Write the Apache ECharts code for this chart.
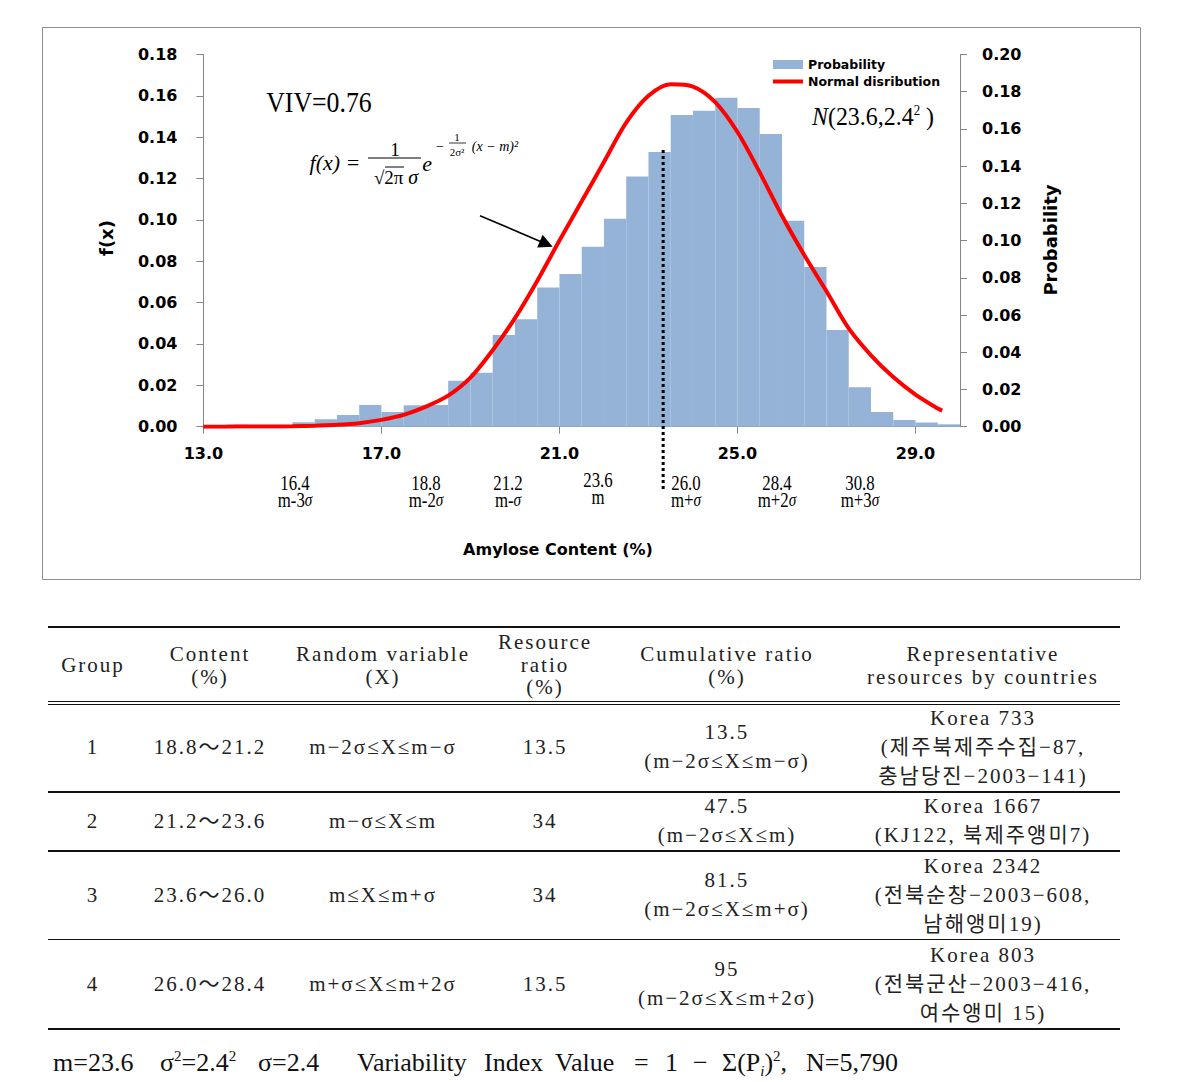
<!DOCTYPE html>
<html><head><meta charset="utf-8">
<script src="https://cdn.jsdelivr.net/npm/echarts@6/dist/echarts.min.js"></script>
<style>
html,body{margin:0;padding:0;background:#fff;}
#wrap{position:relative;width:1200px;height:1082px;overflow:hidden;background:#fff;}
#chart{position:absolute;left:0;top:0;width:1200px;height:600px;}
.t{position:absolute;transform:translate(-50%,-50%);text-align:center;white-space:nowrap;font-family:"Liberation Serif","Noto Sans CJK KR",serif;font-size:21px;letter-spacing:2px;color:#222;}
.hl{position:absolute;left:48px;width:1072px;background:#111;}
.ft{position:absolute;top:1063px;transform:translateY(-50%);white-space:nowrap;font-family:"Liberation Serif","Noto Sans CJK KR",serif;font-size:26px;color:#111;}
.ft sup{font-size:15px;vertical-align:10px;line-height:0;}
.ft sub{font-size:15px;vertical-align:-5px;line-height:0;}
</style></head>
<body><div id="wrap"><div id="chart"></div></div>
<script>
// ---------- chart data ----------
const binStarts = [13.0,13.5,14.0,14.5,15.0,15.5,16.0,16.5,17.0,17.5,18.0,18.5,19.0,19.5,20.0,20.5,21.0,21.5,22.0,22.5,23.0,23.5,24.0,24.5,25.0,25.5,26.0,26.5,27.0,27.5,28.0,28.5,29.0,29.5];
const binWidth = 0.5;
const probability = [0,0.0011,0,0,0.0024,0.0040,0.0063,0.0117,0.0079,0.0115,0.0117,0.0247,0.0290,0.0493,0.0578,0.0748,0.0821,0.0967,0.1117,0.1345,0.1476,0.1675,0.1698,0.1767,0.1713,0.1573,0.1107,0.0858,0.0520,0.0212,0.0079,0.0036,0.0022,0.0013];
const curveX = [13.0,13.5,14.0,14.5,15.0,15.5,16.0,16.5,17.0,17.5,18.0,18.5,19.0,19.5,20.0,20.5,21.0,21.5,22.0,22.5,23.0,23.5,24.0,24.5,25.0,25.5,26.0,26.5,27.0,27.5,28.0,28.5,29.0,29.5,29.6];
const curveFx = [0.0000,0.0000,0.0001,0.0001,0.0002,0.0005,0.0009,0.0017,0.0033,0.0057,0.0097,0.0150,0.0237,0.0370,0.0525,0.0705,0.0900,0.1090,0.1280,0.1470,0.1600,0.1656,0.1645,0.1570,0.1425,0.1230,0.1020,0.0830,0.0655,0.0475,0.0345,0.0240,0.0155,0.0088,0.0078];
const xTicks = [13,17,21,25,29];
const sigmaValues = ['16.4','18.8','21.2','23.6','26.0','28.4','30.8'];
const sigmaNames = ['m-3','m-2','m-','m','m+','m+2','m+3'];
const dividerX = 23.33;

// ---------- table data ----------
const tableHeaders = ['Group','Content<br>(%)','Random variable<br>(X)','Resource<br>ratio<br>(%)','Cumulative ratio<br>(%)','Representative<br>resources by countries'];
const groups = ['1','2','3','4'];
const contents = ['18.8～21.2','21.2～23.6','23.6～26.0','26.0～28.4'];
const randomVars = ['m−2σ≤X≤m−σ','m−σ≤X≤m','m≤X≤m+σ','m+σ≤X≤m+2σ'];
const resourceRatio = ['13.5','34','34','13.5'];
const cumRatio = ['13.5','47.5','81.5','95'];
const cumRange = ['(m−2σ≤X≤m−σ)','(m−2σ≤X≤m)','(m−2σ≤X≤m+σ)','(m−2σ≤X≤m+2σ)'];
const repResources = [['Korea 733','(제주북제주수집−87,','충남당진−2003−141)'],['Korea 1667','(KJ122, 북제주앵미7)'],['Korea 2342','(전북순창−2003−608,','남해앵미19)'],['Korea 803','(전북군산−2003−416,','여수앵미 15)']];
const footParts = ['m=23.6','σ<sup>2</sup>=2.4<sup>2</sup>','σ=2.4','Variability','Index','Value','=','1','−','Σ(P<sub><i>i</i></sub>)<sup>2</sup>,','N=5,790'];

// ---------- chart ----------
const chart = echarts.init(document.getElementById('chart'), null, {renderer:'svg'});
const bold = {fontFamily:'DejaVu Sans', fontWeight:'bold', fontSize:16, color:'#000'};
const barData = binStarts.map((s,i)=>[s, s+binWidth, probability[i]]);
const lineData = curveX.map((x,i)=>[x, curveFx[i]]);

function txt(x,y,text,style,extra){
  return Object.assign({type:'text', x:x, y:y, silent:true, z:50,
    style:Object.assign({text:text, fill:'#000', align:'center', verticalAlign:'middle', textAlign:'center', textVerticalAlign:'middle', fontFamily:'Liberation Serif', fontSize:18}, style||{})}, extra||{});
}
function ln(x1,y1,x2,y2,w,extra){
  return Object.assign({type:'line', silent:true, z:50, shape:{x1:x1,y1:y1,x2:x2,y2:y2}, style:{stroke:'#000', lineWidth:w||1}}, extra||{});
}

chart.setOption({
  animation:false,
  grid:{left:203.4, right:240, top:54.5, bottom:173.3},
  legend:{orient:'vertical', left:766, top:53, itemWidth:30, itemHeight:9, itemGap:4,
    textStyle:{fontFamily:'DejaVu Sans', fontWeight:'bold', fontSize:12.5, color:'#000'},
    data:[{name:'Probability', icon:'rect'},
          {name:'Normal disribution', itemStyle:{opacity:0, color:'rgba(0,0,0,0)', borderWidth:0}, lineStyle:{width:4, color:'#FF0000'}}]},
  xAxis:{type:'value', min:13, max:30,
    axisLine:{lineStyle:{color:'#868686', width:1}},
    axisTick:{show:true, length:7, customValues:xTicks, lineStyle:{color:'#868686'}},
    axisLabel:Object.assign({margin:19, customValues:xTicks, formatter:v=>v.toFixed(1)}, bold),
    splitLine:{show:false}},
  yAxis:[
    {type:'value', min:0, max:0.18, interval:0.02, position:'left',
     axisLine:{show:true, lineStyle:{color:'#868686'}},
     axisTick:{show:true, length:7, lineStyle:{color:'#868686'}},
     axisLabel:Object.assign({margin:26, formatter:v=>v.toFixed(2)}, bold),
     splitLine:{show:false}},
    {type:'value', min:0, max:0.2, interval:0.02, position:'right',
     axisLine:{show:true, lineStyle:{color:'#868686'}},
     axisTick:{show:true, length:7, lineStyle:{color:'#868686'}},
     axisLabel:Object.assign({margin:22, formatter:v=>v.toFixed(2)}, bold),
     splitLine:{show:false}}
  ],
  series:[
    {name:'Probability', type:'custom', xAxisIndex:0, yAxisIndex:1, data:barData,
     encode:{x:[0,1], y:2}, itemStyle:{color:'#95B3D7'}, z:2,
     renderItem:function(params, api){
       const p0 = api.coord([api.value(0), api.value(2)]);
       const p1 = api.coord([api.value(1), 0]);
       return {type:'rect', shape:{x:p0[0], y:p0[1], width:p1[0]-p0[0], height:p1[1]-p0[1]}, style:{fill:'#95B3D7'}};
     }},
    {name:'Normal disribution', type:'line', xAxisIndex:0, yAxisIndex:0, data:lineData,
     smooth:0.3, symbol:'none', z:5, lineStyle:{color:'#FF0000', width:4}, itemStyle:{color:'#FF0000'}}
  ]
});

const dx = chart.convertToPixel({xAxisIndex:0}, dividerX);
const sigX = [295, 426, 508, 598, 686, 777, 860];
const g = [];
g.push({type:'rect', silent:true, z:0, shape:{x:42.5, y:27.5, width:1098, height:552}, style:{fill:'none', stroke:'#8f8f8f', lineWidth:1}});
// axis titles
g.push(txt(106, 238, 'f(x)', {fontFamily:'DejaVu Sans', fontWeight:'bold', fontSize:18}, {rotation:Math.PI/2}));
g.push(txt(1050, 240, 'Probability', {fontFamily:'DejaVu Sans', fontWeight:'bold', fontSize:18}, {rotation:Math.PI/2}));
g.push(txt(558, 549, 'Amylose Content (%)', {fontFamily:'DejaVu Sans', fontWeight:'bold', fontSize:16}));
// VIV
g.push(txt(319, 102, 'VIV=0.76', {fontSize:30}, {scaleX:0.86}));
// N(23.6,2.4^2)
g.push(txt(873, 116, '{i|N}(23.6,2.4{s|2} )', {fontSize:26, rich:{i:{fontStyle:'italic', fontSize:26, fontFamily:'Liberation Serif'}, s:{fontSize:14, fontFamily:'Liberation Serif', verticalAlign:'top', padding:[0,0,12,0]}}}, {scaleX:0.92}));
// formula
g.push(txt(335, 162, '{i|f}(x) =', {fontSize:22, fontStyle:'italic', rich:{i:{fontStyle:'italic', fontSize:22, fontFamily:'Liberation Serif'}}}));
g.push(txt(395, 149, '1', {fontSize:19}));
g.push(ln(368, 158, 421, 158, 1.2));
g.push(txt(396, 177, '√2π {i|σ}', {fontSize:19, rich:{i:{fontStyle:'italic', fontSize:20, fontFamily:'Liberation Serif'}}}));
g.push(ln(385, 167, 404, 167, 1));
g.push(txt(427, 163, 'e', {fontSize:22, fontStyle:'italic'}));
g.push(txt(440, 146, '−', {fontSize:14}));
g.push(txt(457, 137, '1', {fontSize:11}));
g.push(ln(449, 143, 466, 143, 0.8));
g.push(txt(457, 152, '2σ²', {fontSize:11}));
g.push(txt(495, 146, '(x − m)²', {fontSize:14, fontStyle:'italic'}));
// arrow
g.push(ln(480, 215.7, 541, 241.7, 1.6));
g.push({type:'polygon', silent:true, z:50, shape:{points:[[552.7,246.7],[537.2,247.5],[542.6,234.8]]}, style:{fill:'#000'}});
// dotted divider
g.push(ln(dx, 150, dx, 490, 3, {style:{stroke:'#000', lineWidth:3, lineDash:[3,3]}}));
// sigma labels
sigmaValues.forEach((v,i)=>{
  const yy = (i===3) ? 480 : 483;
  g.push(txt(sigX[i], yy, v, {fontSize:21}, {scaleX:0.8}));
  const nm = sigmaNames[i];
  const t = (i===3) ? 'm' : nm + '{s|σ}';
  g.push(txt(sigX[i], yy+17, t, {fontSize:21, rich:{s:{fontStyle:'italic', fontSize:19, fontFamily:'Liberation Serif'}}}, {scaleX:0.8}));
});
chart.setOption({graphic:{elements:g}});

// ---------- table (HTML) ----------
const wrap = document.getElementById('wrap');
function cell(x, y, html, lh){
  const d = document.createElement('div');
  d.className = 't';
  d.style.left = x + 'px';
  d.style.top = y + 'px';
  d.style.lineHeight = (lh||29) + 'px';
  d.innerHTML = html;
  wrap.appendChild(d);
}
function hline(y, h){
  const d = document.createElement('div');
  d.className = 'hl';
  d.style.top = y + 'px';
  d.style.height = h + 'px';
  wrap.appendChild(d);
}
const colX = [93, 210, 383, 545, 727, 983];
const rowY = [747, 821, 895, 984];
tableHeaders.forEach((h,i)=>cell(colX[i], 665, h, 22.5));
groups.forEach((v,r)=>{
  cell(colX[0], rowY[r], v);
  cell(colX[1], rowY[r], contents[r]);
  cell(colX[2], rowY[r], randomVars[r]);
  cell(colX[3], rowY[r], resourceRatio[r]);
  cell(colX[4], rowY[r], cumRatio[r] + '<br>' + cumRange[r]);
  cell(colX[5], rowY[r], repResources[r].join('<br>'));
});
hline(626, 2);
hline(700.5, 1.2);
hline(703.5, 1.2);
hline(791, 1.5);
hline(850, 1.5);
hline(938.5, 1.5);
hline(1027.5, 2);
const footLeft = [53, 160, 258, 357, 484, 555, 634, 665, 693, 722, 806];
footParts.forEach((p,i)=>{
  const s = document.createElement('div');
  s.className = 'ft';
  s.style.left = footLeft[i] + 'px';
  s.innerHTML = p;
  wrap.appendChild(s);
});
</script>
</body></html>
